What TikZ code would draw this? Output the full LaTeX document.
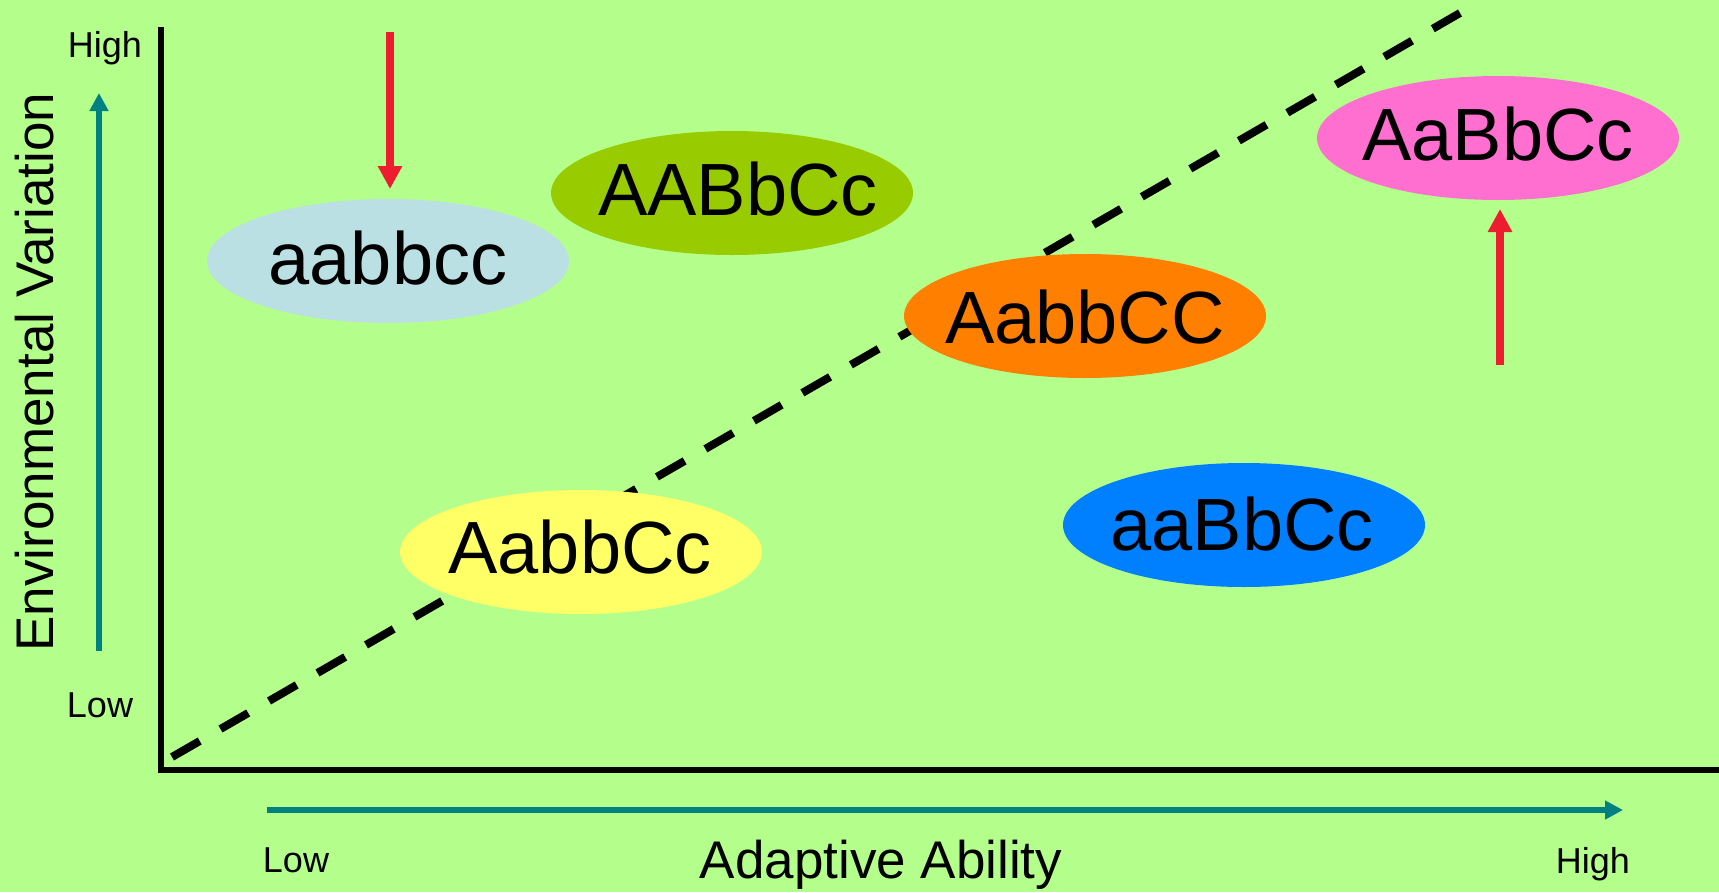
\documentclass[tikz,border=0pt]{standalone}
\usepackage{fontspec}
\setmainfont{Liberation Sans}
\usetikzlibrary{arrows.meta,shapes.geometric}

\definecolor{bggreen}{RGB}{180,255,140}
\definecolor{axisteal}{RGB}{0,128,128}
\definecolor{markred}{RGB}{237,28,46}
\definecolor{paleblue}{RGB}{187,224,227}
\definecolor{olivegreen}{RGB}{153,204,0}
\definecolor{hotpink}{RGB}{255,111,207}
\definecolor{deeporange}{RGB}{255,128,0}
\definecolor{lightyellow}{RGB}{255,255,102}
\definecolor{skyblue}{RGB}{0,128,255}

\begin{document}
\begin{tikzpicture}[x=1pt,y=-1pt,
  geno/.style={ellipse, minimum width=362pt, minimum height=124pt, inner sep=0pt, draw=none},
  genotext/.style={anchor=base, inner sep=0pt, font=\fontsize{74}{80}\selectfont},
  ticklabel/.style={anchor=base, inner sep=0pt, font=\fontsize{36}{40}\selectfont},
  axistitle/.style={anchor=base, inner sep=0pt, font=\fontsize{53}{58}\selectfont},
  trendarrow/.style={axisteal, line width=6pt, -{Triangle[width=18pt,length=18pt]}},
  shiftarrow/.style={markred, line width=8pt, -{Triangle[width=23pt,length=23pt]}}]

% background and page frame
\fill[bggreen] (0,0) rectangle (1719,892);
\useasboundingbox (0,0) rectangle (1719,892);

% axes
\coordinate (ytop) at (161,27);
\coordinate (origin) at (161,770);
\coordinate (xend) at (1719,770);
\draw[line width=6pt, miter limit=10] (ytop) -- (origin) -- (xend);

% diagonal threshold line
\coordinate (diagstart) at (172,757);
\coordinate (diagend) at (1460,13);
\draw[line width=8pt, dash pattern=on 32pt off 24pt] (diagstart) -- (diagend);

% genotype ellipses
\node[geno, fill=paleblue]    (aabbcc) at (388,261) {};
\node[geno, fill=olivegreen]  (AABbCc) at (732,193) {};
\node[geno, fill=hotpink]     (AaBbCc) at (1498,138) {};
\node[geno, fill=deeporange]  (AabbCC) at (1085,316) {};
\node[geno, fill=lightyellow] (AabbCc) at (581,552) {};
\node[geno, fill=skyblue]     (aaBbCc) at (1244,525) {};

% genotype labels, set on their baselines inside the ellipses
\node[genotext] (t1) at (388,284) {aabbcc};
\node[genotext] (t2) at (738,215) {AABbCc};
\node[genotext] (t3) at (1498,160) {AaBbCc};
\node[genotext] (t4) at (1085,343) {AabbCC};
\node[genotext] (t5) at (580,573) {AabbCc};
\node[genotext] (t6) at (1242,550) {aaBbCc};

% shift arrows
\coordinate (downtail) at (390,32);
\coordinate (downtip) at (390,189);
\draw[shiftarrow] (downtail) -- (downtip);
\coordinate (uptail) at (1500,365);
\coordinate (uptip) at (1500,209);
\draw[shiftarrow] (uptail) -- (uptip);

% direction arrows of the axes
\coordinate (vtail) at (99,651);
\coordinate (vtip) at (99,93);
\draw[trendarrow] (vtail) -- (vtip);
\coordinate (htail) at (267,810);
\coordinate (htip) at (1623,810);
\draw[trendarrow] (htail) -- (htip);

% axis labels
\node[ticklabel] (yhigh) at (105,57) {High};
\node[ticklabel] (ylow) at (100,717) {Low};
\node[ticklabel] (xlow) at (296,872) {Low};
\node[ticklabel] (xhigh) at (1593,873) {High};
\node[axistitle] (xtitle) at (881,878) {Adaptive Ability};
\node[axistitle, rotate=90] (ytitle) at (53,372) {Environmental Variation};
\end{tikzpicture}
\end{document}
